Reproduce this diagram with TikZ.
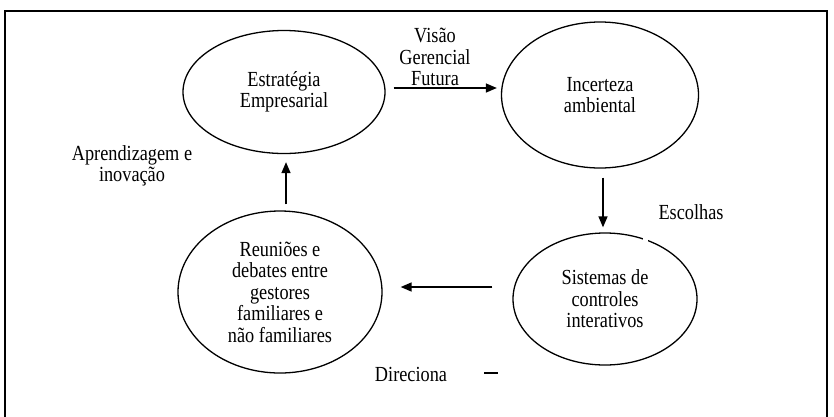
\documentclass[tikz,border=0pt]{standalone}
\usepackage{fontspec}
\setmainfont{Liberation Serif}[FakeStretch=0.85]
\usetikzlibrary{shapes.geometric,arrows.meta}
\begin{document}
\begin{tikzpicture}[x=1pt,y=-1pt,
  txt/.style={font=\fontsize{21.5}{21.5}\selectfont, align=center, inner sep=0pt},
  bubble/.style={txt, ellipse, draw, line width=1.3pt},
  arr/.style={line width=1.5pt, -{Triangle[length=11pt,width=9pt]}},
  frameline/.style={line width=2.6pt}]
\useasboundingbox (0,0) rectangle (834,416);

% outer frame
\draw[frameline] (5,418) -- (5,11) -- (827,11) -- (827,418);

% the four stages of the cycle
\node[bubble, minimum width=202pt, minimum height=123pt] (est) at (284,92)
  {Estratégia\\Empresarial};
\node[bubble, minimum width=197pt, minimum height=146pt] (inc) at (600,95)
  {Incerteza\\ambiental};
\node[bubble, minimum width=184pt, minimum height=132pt] (sis) at (605,299)
  {Sistemas de\\controles\\interativos};
\node[bubble, minimum width=204pt, minimum height=162pt] (reu) at (280,292)
  {Reuniões e\\debates entre\\gestores\\familiares e\\não familiares};

% small break in the outline of the lower right ellipse
\fill[white] (643,236) rectangle (648,244);

% connectors
\draw[arr, shorten <=8pt, shorten >=4pt]
  ([yshift=4pt]est.east) -- ([yshift=4pt]est.east -| inc.west);
\draw[arr, shorten <=9pt, shorten >=5pt]
  ([xshift=3pt]inc.south) -- ([xshift=3pt]inc.south |- sis.north);
\draw[arr, shorten <=20pt, shorten >=18pt]
  ([yshift=12pt]sis.west) -- ([yshift=12pt]sis.west -| reu.east);
\draw[arr, shorten <=6pt, shorten >=8pt]
  ([xshift=6pt]reu.north) -- ([xshift=6pt]reu.north |- est.south);

% labels
\node[txt] (lvis) at (435,57) {Visão\\Gerencial\\Futura};
\node[txt] (lesc) at (691,212) {Escolhas};
\node[txt] (lapr) at (132,166) {Aprendizagem e\\inovação};
\node[txt] (ldir) at (411,374) {Direciona};
\coordinate (dashA) at (484,373);
\coordinate (dashB) at (498,373);
\draw[line width=1.6pt] (dashA) -- (dashB);
\end{tikzpicture}
\end{document}
